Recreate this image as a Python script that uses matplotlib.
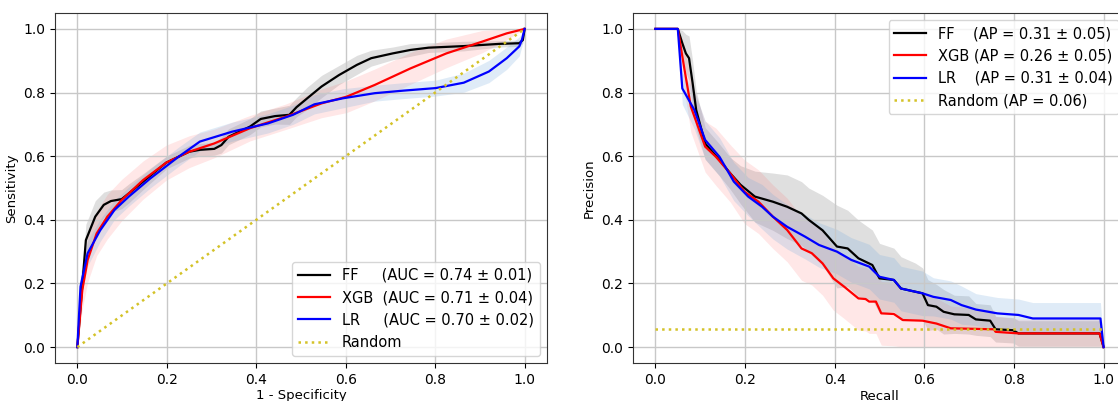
import numpy as np
import matplotlib
matplotlib.use("Agg")
import matplotlib.pyplot as plt

# ---------------- ROC data ----------------
roc_ff_x = [0, 0.019, 0.040, 0.059, 0.075, 0.099, 0.115, 0.147, 0.199, 0.25, 0.274, 0.306, 0.322, 0.338,
            0.386, 0.41, 0.442, 0.474, 0.49, 0.514, 0.546, 0.585, 0.625, 0.657, 0.705, 0.745, 0.785,
            0.864, 0.944, 0.988, 0.996, 1.0]
roc_ff_y = [0, 0.336, 0.41, 0.447, 0.459, 0.465, 0.483, 0.52, 0.58, 0.614, 0.62, 0.623, 0.635, 0.661,
            0.693, 0.717, 0.726, 0.73, 0.754, 0.782, 0.819, 0.855, 0.887, 0.908, 0.923, 0.934, 0.941,
            0.946, 0.953, 0.955, 0.965, 1.0]
roc_ff_sd = [0, 0.05, 0.05, 0.04, 0.035, 0.03, 0.03, 0.025, 0.02, 0.02, 0.02, 0.02, 0.025, 0.025,
             0.025, 0.025, 0.025, 0.03, 0.03, 0.035, 0.035, 0.03, 0.03, 0.025, 0.02, 0.02, 0.015,
             0.015, 0.01, 0.01, 0.01, 0]

roc_xgb_x = [0, 0.011, 0.023, 0.043, 0.067, 0.099, 0.147, 0.199, 0.25, 0.306, 0.386, 0.466, 0.546,
             0.602, 0.665, 0.745, 0.825, 0.905, 0.96, 1.0]
roc_xgb_y = [0, 0.179, 0.274, 0.357, 0.41, 0.462, 0.525, 0.58, 0.614, 0.64, 0.688, 0.724, 0.766,
             0.787, 0.824, 0.876, 0.923, 0.96, 0.986, 1.0]
roc_xgb_sd = [0, 0.06, 0.07, 0.07, 0.07, 0.065, 0.06, 0.055, 0.05, 0.045, 0.04, 0.04, 0.045,
              0.05, 0.05, 0.05, 0.045, 0.035, 0.02, 0]

roc_lr_x = [0, 0.007, 0.023, 0.051, 0.083, 0.115, 0.163, 0.226, 0.274, 0.346, 0.426, 0.482, 0.53,
            0.594, 0.665, 0.729, 0.801, 0.864, 0.92, 0.96, 0.988, 0.994, 1.0]
roc_lr_y = [0, 0.19, 0.295, 0.367, 0.431, 0.473, 0.53, 0.598, 0.646, 0.677, 0.703, 0.73, 0.763,
            0.782, 0.798, 0.806, 0.814, 0.831, 0.866, 0.908, 0.945, 0.966, 1.0]
roc_lr_sd = [0, 0.04, 0.04, 0.035, 0.03, 0.03, 0.03, 0.03, 0.03, 0.03, 0.03, 0.03, 0.03,
             0.03, 0.025, 0.025, 0.025, 0.03, 0.035, 0.035, 0.03, 0.02, 0]

# ---------------- PR data ----------------
pr_ff_x = [0, 0.05, 0.06, 0.068, 0.075, 0.083, 0.091, 0.111, 0.143, 0.167, 0.19, 0.222, 0.262, 0.294,
           0.326, 0.342, 0.373, 0.405, 0.429, 0.453, 0.484, 0.5, 0.532, 0.548, 0.58, 0.596, 0.608,
           0.627, 0.643, 0.667, 0.699, 0.715, 0.747, 0.759, 0.798, 0.81, 0.991, 1.0]
pr_ff_y = [1.0, 1.0, 0.955, 0.923, 0.908, 0.83, 0.745, 0.64, 0.588, 0.546, 0.51, 0.473, 0.457, 0.441,
           0.42, 0.4, 0.367, 0.316, 0.31, 0.279, 0.258, 0.216, 0.211, 0.184, 0.174, 0.169, 0.132,
           0.127, 0.111, 0.103, 0.101, 0.087, 0.083, 0.056, 0.053, 0.043, 0.043, 0.0]
pr_ff_sd = [0, 0, 0.04, 0.06, 0.07, 0.07, 0.06, 0.05, 0.05, 0.05, 0.06, 0.08, 0.09, 0.1,
            0.1, 0.1, 0.11, 0.13, 0.12, 0.12, 0.11, 0.11, 0.1, 0.1, 0.09, 0.08, 0.08,
            0.07, 0.07, 0.06, 0.06, 0.05, 0.05, 0.04, 0.04, 0.04, 0.04, 0]

pr_xgb_x = [0, 0.05, 0.064, 0.079, 0.095, 0.111, 0.135, 0.167, 0.199, 0.23, 0.262, 0.294, 0.326, 0.349,
            0.373, 0.397, 0.421, 0.453, 0.469, 0.477, 0.492, 0.504, 0.532, 0.552, 0.596, 0.627, 0.659,
            0.755, 0.759, 0.81, 0.991, 1.0]
pr_xgb_y = [1.0, 1.0, 0.88, 0.756, 0.693, 0.63, 0.598, 0.546, 0.488, 0.457, 0.41, 0.368, 0.31, 0.295,
            0.263, 0.216, 0.19, 0.153, 0.151, 0.143, 0.143, 0.106, 0.104, 0.085, 0.083, 0.074, 0.059,
            0.056, 0.048, 0.043, 0.043, 0.0]
pr_xgb_sd = [0, 0, 0.07, 0.08, 0.08, 0.08, 0.09, 0.09, 0.1, 0.1, 0.1, 0.1, 0.1, 0.1,
             0.1, 0.1, 0.1, 0.1, 0.1, 0.1, 0.1, 0.1, 0.1, 0.09, 0.09, 0.08, 0.07,
             0.06, 0.05, 0.045, 0.045, 0]

pr_lr_x = [0, 0.05, 0.06, 0.087, 0.111, 0.143, 0.175, 0.207, 0.238, 0.262, 0.294, 0.334, 0.365, 0.405,
           0.437, 0.477, 0.5, 0.532, 0.548, 0.596, 0.62, 0.659, 0.683, 0.715, 0.763, 0.81, 0.842,
           0.993, 1.0]
pr_lr_y = [1.0, 1.0, 0.813, 0.745, 0.651, 0.598, 0.52, 0.473, 0.441, 0.41, 0.378, 0.347, 0.321, 0.3,
           0.274, 0.253, 0.221, 0.211, 0.184, 0.169, 0.158, 0.148, 0.132, 0.118, 0.106, 0.101, 0.09,
           0.09, 0.0]
pr_lr_sd = [0, 0, 0.05, 0.06, 0.06, 0.06, 0.06, 0.06, 0.07, 0.07, 0.07, 0.07, 0.07, 0.07,
            0.07, 0.07, 0.07, 0.07, 0.07, 0.07, 0.06, 0.06, 0.06, 0.05, 0.05, 0.05, 0.05,
            0.05, 0]

roc_labels = ["FF     (AUC = 0.74 ± 0.01)", "XGB  (AUC = 0.71 ± 0.04)", "LR     (AUC = 0.70 ± 0.02)", "Random"]
pr_labels = ["FF    (AP = 0.31 ± 0.05)", "XGB (AP = 0.26 ± 0.05)", "LR    (AP = 0.31 ± 0.04)", "Random (AP = 0.06)"]
pr_random = 0.057

line_colors = ["black", "red", "blue"]
fill_colors = ["grey", "#ff6060", "#6fa8dc"]
fill_alphas = [0.25, 0.15, 0.22]
rand_color = "#d4c228"

W, H = 1118, 401
fig = plt.figure(figsize=(W / 100, H / 100), dpi=100)
ax1 = fig.add_axes([55 / W, (H - 363) / H, 492 / W, 350 / H])
ax2 = fig.add_axes([633 / W, (H - 363) / H, 493 / W, 350 / H])

def draw(ax, series, labels, rand_x, rand_y):
    for (x, y, sd), lab, lc, fc, fa in zip(series, labels, line_colors, fill_colors, fill_alphas):
        x = np.array(x); y = np.array(y); sd = np.array(sd)
        ax.fill_between(x, np.clip(y - sd, 0, 1), np.clip(y + sd, 0, 1), color=fc, alpha=fa, lw=0)
        ax.plot(x, y, color=lc, lw=1.6, label=lab)
    ax.plot(rand_x, rand_y, linestyle=":", color=rand_color, lw=1.8, label=labels[3])
    ax.set_xlim(-0.05, 1.05)
    ax.set_ylim(-0.05, 1.05)
    ax.set_xticks([0, 0.2, 0.4, 0.6, 0.8, 1.0])
    ax.set_yticks([0, 0.2, 0.4, 0.6, 0.8, 1.0])
    ax.grid(True, color="#c8c8c8", lw=1)
    ax.tick_params(labelsize=10)
    for s in ax.spines.values():
        s.set_color("#333333")

draw(ax1, [(roc_ff_x, roc_ff_y, roc_ff_sd), (roc_xgb_x, roc_xgb_y, roc_xgb_sd), (roc_lr_x, roc_lr_y, roc_lr_sd)],
     roc_labels, [0, 1], [0, 1])
ax1.set_xlabel("1 - Specificity", fontsize=9.5, labelpad=2)
ax1.set_ylabel("Sensitivity", fontsize=9.5)
ax1.legend(loc="lower right", fontsize=10.5, handlelength=2.2)

draw(ax2, [(pr_ff_x, pr_ff_y, pr_ff_sd), (pr_xgb_x, pr_xgb_y, pr_xgb_sd), (pr_lr_x, pr_lr_y, pr_lr_sd)],
     pr_labels, [0, 1], [pr_random, pr_random])
ax2.set_xlabel("Recall", fontsize=9.5, labelpad=2)
ax2.set_ylabel("Precision", fontsize=9.5)
ax2.legend(loc="upper right", fontsize=10.5, handlelength=2.2)

fig.savefig("out.png", dpi=100)
